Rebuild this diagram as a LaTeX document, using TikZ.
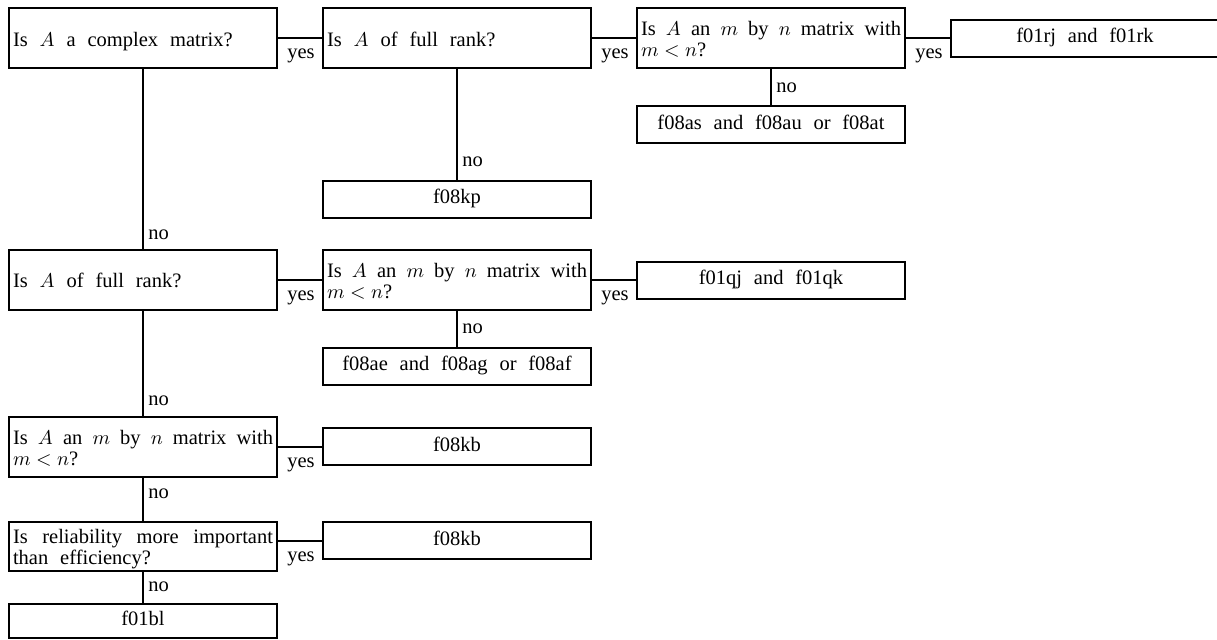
\documentclass[tikz,border=0pt]{standalone}
\usepackage{fontspec}
\setmainfont{Liberation Serif}[WordSpace=2.3]
\begin{document}
\begin{tikzpicture}[x=0.5pt,y=-0.5pt,
  every node/.style={font=\fontsize{10.25pt}{10.6pt}\selectfont},
  qbox/.style={draw, line width=1pt, rectangle, minimum width=134pt, minimum height=30.25pt, text width=130pt, inner xsep=2pt, inner ysep=0pt,
    execute at begin node={\spaceskip=0.58em plus 0.35em minus 0.12em\baselineskip=10.5pt\relax}},
  one/.style={text height=8pt, text depth=0pt},
  two/.style={text height=8.5pt, text depth=11.2pt},
  abox/.style={draw, line width=1pt, rectangle, minimum width=134pt, minimum height=18.5pt, inner sep=0pt, text height=7pt, text depth=2.25pt},
  link/.style={line width=1pt},
  lbl/.style={inner sep=0pt}]
\useasboundingbox (0,0) rectangle (1217,639);

% question boxes and answers
\node[qbox,one] (q1) at (143,38) {Is $A$ a complex matrix?};
\node[qbox,one] (q2) at (457,38) {Is $A$ of full rank?};
\node[qbox,two] (q3) at (771,38) {\makebox[130pt][s]{Is $A$ an $m$ by $n$ matrix with}\\$m<n$?};
\node[abox] (rj) at (1085,38) {f01rj and f01rk};
\node[abox] (as) at (771,124.5) {f08as and f08au or f08at};
\node[abox] (kp) at (457,199) {f08kp};

\node[qbox,one] (q4) at (143,279.75) {Is $A$ of full rank?};
\node[qbox,two] (q5) at (457,279.75) {\makebox[130pt][s]{Is $A$ an $m$ by $n$ matrix with}\\$m<n$?};
\node[abox] (qj) at (771,280) {f01qj and f01qk};
\node[abox] (ae) at (457,366) {f08ae and f08ag or f08af};

\node[qbox,two] (q6) at (143,447) {\makebox[130pt][s]{Is $A$ an $m$ by $n$ matrix with}\\$m<n$?};
\node[abox] (kb1) at (457,446.5) {f08kb};

\node[qbox,two,minimum height=24.5pt] (q7) at (143,546.5) {\makebox[130pt][s]{Is reliability more important}\\than efficiency?};
\node[abox] (kb2) at (457,540.5) {f08kb};
\node[abox,minimum height=17pt] (bl) at (143,621) {f01bl};

% yes connectors
\draw[link] (q2.west -| q1.east) -- (q2.west);
\draw[link] (q3.west -| q2.east) -- (q3.west);
\draw[link] (rj.west -| q3.east) -- (rj.west);
\draw[link] (q5.west -| q4.east) -- (q5.west);
\draw[link] (qj.west -| q5.east) -- (qj.west);
\draw[link] (kb1.west -| q6.east) -- (kb1.west);
\draw[link] (kb2.west -| q7.east) -- (kb2.west);

\node[lbl,anchor=base] (y1) at ([xshift=11.5pt,yshift=5.5pt]q1.south east) {yes};
\node[lbl,anchor=base] (y2) at ([xshift=11.5pt,yshift=5.5pt]q2.south east) {yes};
\node[lbl,anchor=base] (y3) at ([xshift=11.5pt,yshift=5.5pt]q3.south east) {yes};
\node[lbl,anchor=base] (y4) at ([xshift=11.5pt,yshift=5.5pt]q4.south east) {yes};
\node[lbl,anchor=base] (y5) at ([xshift=11.5pt,yshift=5.5pt]q5.south east) {yes};
\node[lbl,anchor=base] (y6) at ([xshift=11.5pt,yshift=5.5pt]q6.south east) {yes};
\node[lbl,anchor=base] (y7) at ([xshift=11.5pt,yshift=5.5pt]q7.south east) {yes};

% no connectors
\draw[link] (q1.south) -- (q4.north);
\draw[link] (q2.south) -- (kp.north);
\draw[link] (q3.south) -- (as.north);
\draw[link] (q5.south) -- (ae.north);
\draw[link] (q4.south) -- (q6.north);
\draw[link] (q6.south) -- (q7.north);
\draw[link] (q7.south) -- (bl.north);

\node[lbl,anchor=base west] (n1) at ([xshift=2.5pt,yshift=4.75pt]q4.north) {no};
\node[lbl,anchor=base west] (n2) at ([xshift=2.5pt,yshift=6.5pt]kp.north) {no};
\node[lbl,anchor=base west] (n3) at ([xshift=2.5pt,yshift=6.5pt]as.north) {no};
\node[lbl,anchor=base west] (n4) at ([xshift=2.5pt,yshift=6.5pt]ae.north) {no};
\node[lbl,anchor=base west] (n5) at ([xshift=2.5pt,yshift=5.15pt]q6.north) {no};
\node[lbl,anchor=base west] (n6) at ([xshift=2.5pt,yshift=11.25pt]q7.north) {no};
\node[lbl,anchor=base west] (n7) at ([xshift=2.5pt,yshift=5.65pt]bl.north) {no};
\end{tikzpicture}
\end{document}
